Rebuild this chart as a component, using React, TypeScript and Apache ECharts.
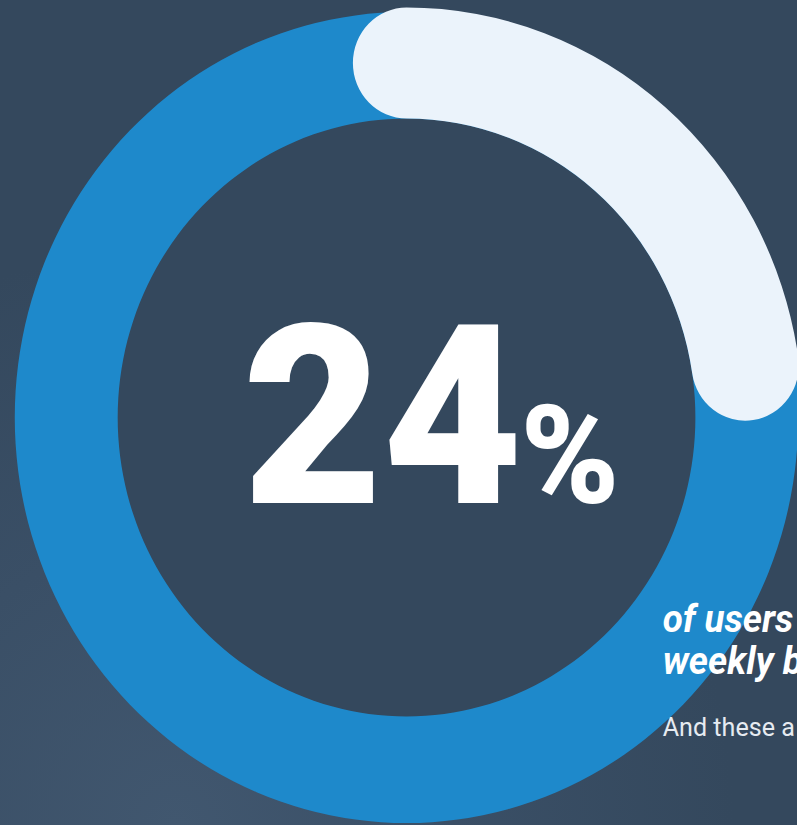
import React, { useEffect, useRef } from "react";
import * as echarts from "echarts";

// ---- data ----
const categories: string[] = ["users"];
const shareValues: number[] = [24];
const totalValues: number[] = [100];
const percentSign = "%";
const captionLines: string[] = ["of users", "weekly b"];
const subCaption = "And these a";

// ---- layout (unsquished 825x825 design space, squeezed to 797 wide) ----
const DESIGN = 825;
const PAGE_W = 797;
const PAGE_H = 825;
const CX = 420.8;
const CY = 417.5;
const INNER = 299;
const HOLE = "#34485d";

function label(x: number, y: number, text: string, font: string, fill: string, align: string) {
  return {
    type: "text",
    z: 100,
    zlevel: 0,
    silent: true,
    x,
    y,
    style: { text, fill, font, textAlign: align, textVerticalAlign: "middle" },
  };
}

export default function App() {
  const ref = useRef<HTMLDivElement>(null);

  useEffect(() => {
    if (!ref.current) return;
    const chart = echarts.init(ref.current, undefined, { renderer: "svg" });
    const option: any = {
      animation: false,
      backgroundColor: {
        type: "radial",
        x: 0.22,
        y: 1.0,
        r: 0.7,
        colorStops: [
          { offset: 0, color: "#41576f" },
          { offset: 0.5, color: "#3a4f66" },
          { offset: 1, color: HOLE },
        ],
      },
      polar: { center: [CX, CY], radius: [INNER, 410] },
      angleAxis: {
        type: "value",
        min: 0,
        max: 106,
        startAngle: 90,
        clockwise: true,
        show: false,
      },
      radiusAxis: { type: "category", data: categories, show: false },
      series: [
        {
          type: "pie",
          z: 1,
          silent: true,
          center: [CX, CY],
          radius: [INNER, 405.5],
          startAngle: 90,
          label: { show: false },
          labelLine: { show: false },
          itemStyle: { color: "#1e89cb" },
          data: totalValues.map((v, i) => ({ name: categories[i], value: v })),
        },
        {
          type: "bar",
          z: 3,
          coordinateSystem: "polar",
          roundCap: true,
          barWidth: "100%",
          barCategoryGap: "0%",
          itemStyle: { color: "#ebf3fb" },
          data: shareValues,
        },
      ],
      graphic: {
        elements: [
          {
            type: "circle",
            z: 0,
            silent: true,
            shape: { cx: CX, cy: CY, r: INNER + 0.5 },
            style: { fill: HOLE },
          },
          label(396, 418, String(shareValues[0]), "900 250px Roboto", "#ffffff", "center"),
          label(590, 456, percentSign, "900 138px Roboto", "#ffffff", "center"),
          label(686, 619, captionLines[0], "italic bold 38px Roboto", "#ffffff", "left"),
          label(686, 661, captionLines[1], "italic bold 38px Roboto", "#ffffff", "left"),
          label(686, 727, subCaption, "normal 26px Roboto", "#e6ebf1", "left"),
        ],
      },
    };
    chart.setOption(option);
    return () => chart.dispose();
  }, []);

  return (
    <div
      style={{
        position: "fixed",
        left: 0,
        top: 0,
        width: PAGE_W,
        height: PAGE_H,
        overflow: "hidden",
        background: HOLE,
      }}
    >
      <div
        ref={ref}
        style={{
          position: "absolute",
          left: 0,
          top: 0,
          width: DESIGN,
          height: PAGE_H,
          transform: `scaleX(${PAGE_W / DESIGN})`,
          transformOrigin: "0 0",
        }}
      />
    </div>
  );
}
